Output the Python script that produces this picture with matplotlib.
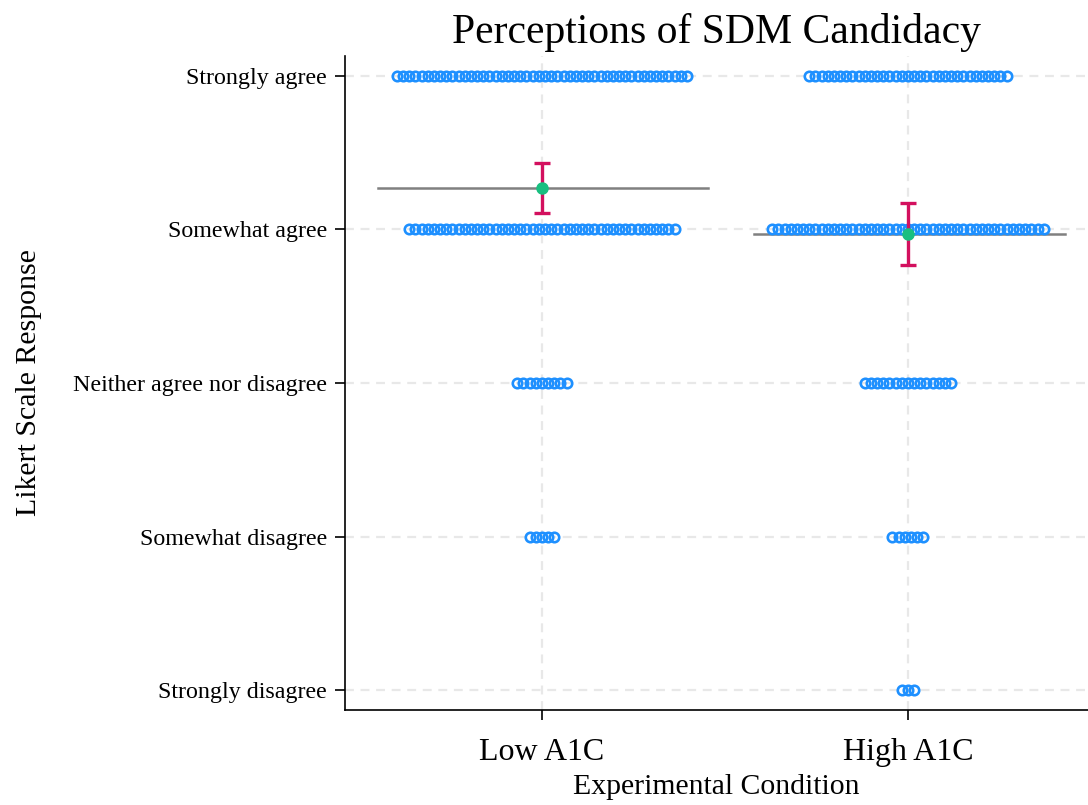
import matplotlib
matplotlib.use("Agg")
import matplotlib.pyplot as plt
import numpy as np

plt.rcParams['font.family'] = ['Liberation Serif', 'DejaVu Serif']

conditions = ["Low A1C", "High A1C"]
likert_labels = ["Strongly disagree", "Somewhat disagree", "Neither agree nor disagree",
                 "Somewhat agree", "Strongly agree"]
likert_values = [1, 2, 3, 4, 5]

# counts of responses per Likert level (1..5) per condition
low_counts = [0, 5, 9, 44, 48]
high_counts = [3, 6, 15, 45, 33]

# summary stats (mean, error half-width)
means = [4.27, 3.97]
err_half = [0.16, 0.20]
hline_left = [0.448, 0.421]
hline_right = [0.454, 0.429]

dot_blue = "#1E90FF"
err_col = "#D3105E"
mean_col = "#19BF80"
line_col = "#808080"

fig = plt.figure(figsize=(10.88, 8.05), dpi=100)
ax = fig.add_axes([345/1088, 95/805, 1 - 345/1088, (710-56)/805])

step = 0.01686
for xi, counts in enumerate([low_counts, high_counts], start=1):
    for lv, n in zip(likert_values, counts):
        if n == 0:
            continue
        offs = (np.arange(n) - (n - 1) / 2) * step
        ax.plot(xi + offs, np.full(n, lv), linestyle='none', marker='o',
                markersize=6.8, markerfacecolor='none', markeredgecolor=dot_blue,
                markeredgewidth=1.9, zorder=3)

for xi, (m, e, hl, hr) in enumerate(zip(means, err_half, hline_left, hline_right), start=1):
    ax.plot([xi - hl, xi + hr], [m, m], color=line_col, lw=1.8, zorder=2)
    ax.errorbar([xi], [m], yerr=[e], fmt='none', ecolor=err_col, elinewidth=2.4,
                capsize=6, capthick=2.4, zorder=4)
    ax.plot([xi], [m], marker='o', markersize=8, color=mean_col, linestyle='none', zorder=5)

ax.set_xlim(0.462, 2.492)
ax.set_ylim(0.87, 5.13)
ax.set_xticks([1, 2])
ax.set_xticklabels(conditions, fontsize=23)
ax.set_yticks(likert_values)
ax.set_yticklabels(likert_labels, fontsize=17.3)

ax.grid(True, color="#E8E8E8", linestyle=(0, (4, 3)), linewidth=1.6, zorder=0)
ax.set_axisbelow(True)

for s in ['top', 'right']:
    ax.spines[s].set_visible(False)
for s in ['left', 'bottom']:
    ax.spines[s].set_linewidth(1.2)
    ax.spines[s].set_color('black')
ax.tick_params(axis='both', direction='out', length=7, width=1.2, colors='black')
ax.tick_params(axis='y', pad=6)
ax.tick_params(axis='x', pad=13)

ax.set_xlabel("Experimental Condition", fontsize=21.4, labelpad=5)
ax.set_ylabel("Likert Scale Response", fontsize=21.5, labelpad=22)
ax.set_title("Perceptions of SDM Candidacy", fontsize=30, pad=9)

fig.savefig("out.png", dpi=100)
